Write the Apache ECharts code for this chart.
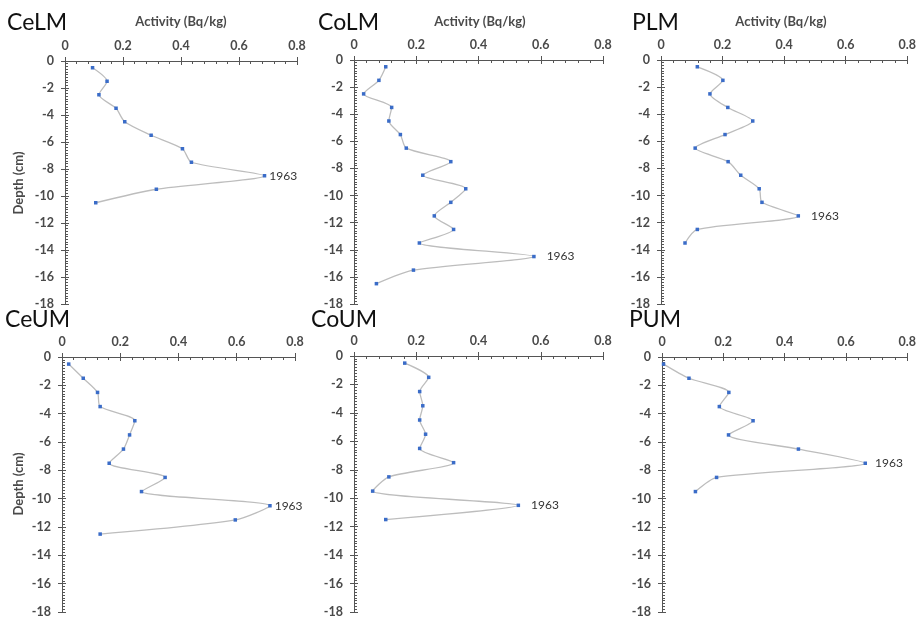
<!DOCTYPE html>
<html>
<head>
<meta charset="utf-8">
<script src="https://cdn.jsdelivr.net/npm/echarts@6/dist/echarts.min.js"></script>
<style>html,body{margin:0;padding:0;background:#fff;}#c{width:919px;height:620px;}</style>
</head>
<body>
<div id="c"></div>
<script>
// Depth mid-points (cm)
const depths = [-0.5,-1.5,-2.5,-3.5,-4.5,-5.5,-6.5,-7.5,-8.5,-9.5,-10.5,-11.5,-12.5,-13.5,-14.5,-15.5,-16.5];
// Activity (Bq/kg) per core
const CeLM = [0.095,0.145,0.117,0.176,0.206,0.297,0.405,0.436,0.688,0.315,0.106];
const CoLM = [0.102,0.080,0.031,0.121,0.112,0.149,0.168,0.311,0.221,0.359,0.311,0.258,0.320,0.210,0.578,0.191,0.072];
const PLM  = [0.118,0.201,0.159,0.217,0.298,0.208,0.111,0.218,0.259,0.319,0.328,0.446,0.118,0.078];
const CeUM = [0.023,0.073,0.122,0.131,0.250,0.232,0.211,0.162,0.354,0.273,0.714,0.595,0.131];
const CoUM = [0.163,0.240,0.211,0.221,0.211,0.230,0.211,0.320,0.112,0.060,0.528,0.102];
const PUM  = [0.005,0.088,0.218,0.187,0.297,0.217,0.445,0.663,0.178,0.109];
const xTicks = [0, 0.2, 0.4, 0.6, 0.8];
const yTicks = [0,-2,-4,-6,-8,-10,-12,-14,-16,-18];
const peakLabel = '1963';

const panels = [
  {name:'CeLM', data:CeLM, grid:{left:65, top:61, width:232, height:243}, title:[7,25], labDist:3},
  {name:'CoLM', data:CoLM, grid:{left:354, top:60, width:249, height:244}, title:[318,25], labDist:11},
  {name:'PLM',  data:PLM,  grid:{left:661, top:60, width:248, height:244}, title:[632,25], labDist:11},
  {name:'CeUM', data:CeUM, grid:{left:62, top:357, width:233, height:255}, title:[5,322], labDist:3},
  {name:'CoUM', data:CoUM, grid:{left:354, top:356, width:249, height:256}, title:[311,322], labDist:11},
  {name:'PUM',  data:PUM,  grid:{left:662, top:357, width:247, height:255}, title:[629,322], labDist:8}
];

const axisColor = '#555';
const labelStyle = {color:'#4a4a4a', fontFamily:'Lato', fontWeight:'bold', fontSize:12.5};
const grids=[], xAxes=[], yAxes=[], series=[], graphics=[];

panels.forEach((p, i) => {
  grids.push(Object.assign({containLabel:false}, p.grid));
  xAxes.push({gridIndex:i, type:'value', position:'top', min:xTicks[0], max:xTicks[xTicks.length-1], interval:0.2,
    axisLine:{show:true, onZero:false, lineStyle:{color:axisColor, width:1}},
    axisTick:{show:true, inside:true, length:4, lineStyle:{color:axisColor}},
    minorTick:{show:true, splitNumber:5, length:3, lineStyle:{color:axisColor}},
    splitLine:{show:false},
    axisLabel:Object.assign({margin:9, formatter:v=>String(+v.toFixed(1))}, labelStyle)});
  xAxes.push({gridIndex:i, type:'value', position:'top', min:0, max:0.8, interval:0.2,
    axisLine:{show:false, onZero:false}, axisTick:{show:true, inside:false, length:4, lineStyle:{color:axisColor}},
    axisLabel:{show:false}, splitLine:{show:false}});
  yAxes.push({gridIndex:i, type:'value', position:'left', min:yTicks[yTicks.length-1], max:yTicks[0], interval:2,
    axisLine:{show:true, onZero:false, lineStyle:{color:axisColor, width:1}},
    axisTick:{show:true, inside:true, length:4, lineStyle:{color:axisColor}},
    minorTick:{show:true, splitNumber:10, length:3, lineStyle:{color:axisColor}},
    splitLine:{show:false},
    axisLabel:Object.assign({margin:11}, labelStyle)});
  yAxes.push({gridIndex:i, type:'value', position:'left', min:-18, max:0, interval:2,
    axisLine:{show:false, onZero:false}, axisTick:{show:true, inside:false, length:4, lineStyle:{color:axisColor}},
    axisLabel:{show:false}, splitLine:{show:false}});

  let peak = 0;
  p.data.forEach((v,k)=>{ if (v > p.data[peak]) peak = k; });
  const pts = p.data.map((v,k) => {
    const item = {value:[v, depths[k]]};
    if (k === peak) item.label = {show:true, position:'right', distance:p.labDist, formatter:peakLabel,
      color:'#333', fontFamily:'Lato', fontSize:12};
    return item;
  });
  series.push({type:'line', xAxisIndex:2*i, yAxisIndex:2*i, data:pts, smooth:0.25,
    symbol:'rect', symbolSize:3.5, showSymbol:true,
    lineStyle:{color:'#bdbdbd', width:1.3},
    itemStyle:{color:'#3a6cc8'},
    label:{show:false}, z:3, animation:false});

  graphics.push({type:'text', left:p.title[0], top:p.title[1]-14,
    style:{text:p.name, fontFamily:'Lato', fontSize:23, fill:'#111'}});
});

[[181,22],[480,22],[781,22]].forEach(c => graphics.push({type:'text', x:c[0], y:c[1],
  style:{text:'Activity (Bq/kg)', fontFamily:'Lato', fontWeight:'bold', fontSize:13, fill:'#4a4a4a', align:'center', verticalAlign:'middle'}}));
[[19,183],[19,484]].forEach(c => graphics.push({type:'text', x:c[0], y:c[1], rotation:Math.PI/2,
  style:{text:'Depth (cm)', fontFamily:'Lato', fontWeight:'bold', fontSize:13, fill:'#4a4a4a', align:'center', verticalAlign:'middle'}}));

const chart = echarts.init(document.getElementById('c'), null, {renderer:'canvas'});
chart.setOption({animation:false, grid:grids, xAxis:xAxes, yAxis:yAxes, series:series, graphic:graphics});
</script>
</body>
</html>
